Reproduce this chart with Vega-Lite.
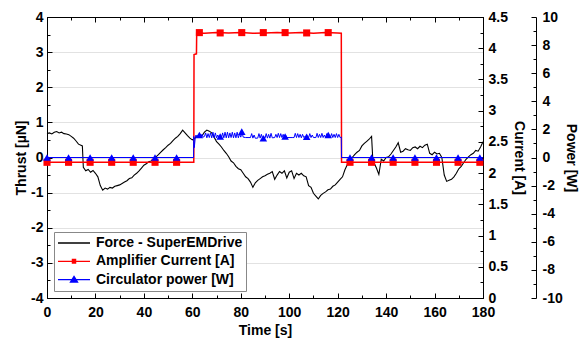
{
  "$schema": "https://vega.github.io/schema/vega-lite/v6.json",
  "width": 436,
  "height": 281,
  "autosize": {"type": "none"},
  "padding": {"left": 47, "top": 17, "right": 96, "bottom": 46},
  "config": {
    "view": {"stroke": "black", "strokeWidth": 1},
    "font": "Liberation Sans",
    "axis": {
      "labelFont": "Liberation Sans", "labelFontSize": 14, "labelFontWeight": "bold", "labelColor": "black",
      "titleFont": "Liberation Sans", "titleFontSize": 14, "titleFontWeight": "bold", "titleColor": "black",
      "domainColor": "black", "tickColor": "black", "labelOverlap": false, "labelFlush": false, "grid": false
    },
    "legend": {
      "labelFont": "Liberation Sans", "labelFontSize": 14, "labelFontWeight": "bold", "labelColor": "black",
      "strokeColor": "#888888", "fillColor": "white", "padding": 3, "rowPadding": 2.3,
      "symbolSize": 1024, "symbolStrokeWidth": 1.3, "symbolOpacity": 1, "labelOffset": 5,
      "orient": "bottom-left", "offset": 7, "clipHeight": 16
    }
  },
  "datasets": {
    "force": [
      {"t":0,"v":0.68},{"t":1,"v":0.7},{"t":2,"v":0.67},{"t":3,"v":0.72},{"t":4,"v":0.74},{"t":5,"v":0.7},{"t":6,"v":0.72},{"t":7,"v":0.68},{"t":8,"v":0.67},{"t":9,"v":0.65},{"t":10,"v":0.6},{"t":11,"v":0.55},{"t":12,"v":0.47},{"t":13,"v":0.38},{"t":14,"v":0.35},{"t":14.6,"v":0.33},{"t":15,"v":-0.28},{"t":16,"v":-0.38},{"t":17,"v":-0.34},{"t":18,"v":-0.42},{"t":19,"v":-0.37},{"t":20,"v":-0.45},{"t":21,"v":-0.55},{"t":22,"v":-0.8},{"t":23,"v":-0.93},{"t":24,"v":-0.87},{"t":25,"v":-0.9},{"t":26,"v":-0.85},{"t":27,"v":-0.87},{"t":28,"v":-0.82},{"t":29,"v":-0.8},{"t":30,"v":-0.78},{"t":31,"v":-0.74},{"t":32,"v":-0.7},{"t":33,"v":-0.66},{"t":34,"v":-0.6},{"t":35,"v":-0.58},{"t":36,"v":-0.5},{"t":37,"v":-0.45},{"t":38,"v":-0.38},{"t":39,"v":-0.3},{"t":40,"v":-0.22},{"t":41,"v":-0.18},{"t":42,"v":-0.12},{"t":43,"v":-0.1},{"t":44,"v":-0.05},{"t":45,"v":0.02},{"t":46,"v":0.08},{"t":47,"v":0.15},{"t":48,"v":0.22},{"t":49,"v":0.28},{"t":50,"v":0.35},{"t":51,"v":0.4},{"t":52,"v":0.48},{"t":53,"v":0.55},{"t":54,"v":0.6},{"t":55,"v":0.68},{"t":56,"v":0.78},{"t":57,"v":0.7},{"t":58,"v":0.62},{"t":59,"v":0.55},{"t":60,"v":0.5},{"t":61,"v":0.55},{"t":62,"v":0.6},{"t":63,"v":0.65},{"t":64,"v":0.62},{"t":65,"v":0.72},{"t":66,"v":0.78},{"t":67,"v":0.75},{"t":68,"v":0.7},{"t":69,"v":0.58},{"t":70,"v":0.45},{"t":71,"v":0.38},{"t":72,"v":0.3},{"t":73,"v":0.2},{"t":74,"v":0.12},{"t":75,"v":0.02},{"t":76,"v":-0.1},{"t":77,"v":-0.15},{"t":78,"v":-0.25},{"t":79,"v":-0.32},{"t":80,"v":-0.35},{"t":81,"v":-0.45},{"t":82,"v":-0.55},{"t":83,"v":-0.6},{"t":84,"v":-0.7},{"t":85,"v":-0.85},{"t":86,"v":-0.72},{"t":87,"v":-0.65},{"t":88,"v":-0.6},{"t":89,"v":-0.55},{"t":90,"v":-0.52},{"t":91,"v":-0.48},{"t":92,"v":-0.45},{"t":93,"v":-0.4},{"t":94,"v":-0.62},{"t":95,"v":-0.5},{"t":96,"v":-0.4},{"t":97,"v":-0.45},{"t":98,"v":-0.38},{"t":99,"v":-0.58},{"t":100,"v":-0.42},{"t":101,"v":-0.38},{"t":102,"v":-0.6},{"t":103,"v":-0.45},{"t":104,"v":-0.5},{"t":105,"v":-0.45},{"t":106,"v":-0.52},{"t":107,"v":-0.55},{"t":108,"v":-0.8},{"t":109,"v":-0.85},{"t":110,"v":-1.02},{"t":111,"v":-1.1},{"t":112,"v":-1.18},{"t":113,"v":-1.08},{"t":114,"v":-1.02},{"t":115,"v":-0.98},{"t":116,"v":-0.92},{"t":117,"v":-0.9},{"t":118,"v":-0.82},{"t":119,"v":-0.78},{"t":120,"v":-0.7},{"t":121,"v":-0.62},{"t":122,"v":-0.55},{"t":123,"v":-0.35},{"t":124,"v":-0.2},{"t":125,"v":-0.1},{"t":126,"v":0.0},{"t":127,"v":0.08},{"t":128,"v":0.15},{"t":129,"v":0.2},{"t":130,"v":0.33},{"t":131,"v":0.4},{"t":132,"v":0.46},{"t":133,"v":0.52},{"t":134,"v":0.6},{"t":134.5,"v":-0.05},{"t":135,"v":-0.15},{"t":136,"v":-0.3},{"t":137,"v":-0.48},{"t":138,"v":-0.05},{"t":139,"v":-0.1},{"t":140,"v":0.0},{"t":141,"v":0.02},{"t":142,"v":0.1},{"t":143,"v":0.2},{"t":144,"v":0.3},{"t":145,"v":0.42},{"t":146,"v":0.15},{"t":147,"v":0.18},{"t":148,"v":0.25},{"t":149,"v":0.22},{"t":150,"v":0.2},{"t":151,"v":0.28},{"t":152,"v":0.3},{"t":153,"v":0.25},{"t":154,"v":0.32},{"t":155,"v":0.28},{"t":156,"v":0.35},{"t":157,"v":0.38},{"t":158,"v":0.12},{"t":159,"v":0.08},{"t":160,"v":0.15},{"t":161,"v":0.1},{"t":162,"v":0.12},{"t":163,"v":0.0},{"t":164,"v":-0.5},{"t":165,"v":-0.68},{"t":166,"v":-0.65},{"t":167,"v":-0.62},{"t":168,"v":-0.55},{"t":169,"v":-0.45},{"t":170,"v":-0.32},{"t":171,"v":-0.25},{"t":172,"v":-0.15},{"t":173,"v":-0.05},{"t":174,"v":0.02},{"t":175,"v":0.08},{"t":176,"v":0.12},{"t":177,"v":0.2},{"t":178,"v":0.18},{"t":179,"v":0.3},{"t":180,"v":0.45}
    ],
    "current": [
      {"t":0,"v":2.173},{"t":60.6,"v":2.173},{"t":60.7,"v":3.9},{"t":61.7,"v":3.91},{"t":61.8,"v":4.245},{"t":65,"v":4.24},{"t":70,"v":4.25},{"t":75,"v":4.245},{"t":80,"v":4.25},{"t":85,"v":4.24},{"t":90,"v":4.245},{"t":95,"v":4.25},{"t":100,"v":4.245},{"t":105,"v":4.25},{"t":110,"v":4.24},{"t":115,"v":4.25},{"t":120,"v":4.245},{"t":121.5,"v":4.24},{"t":121.6,"v":2.173},{"t":180,"v":2.173}
    ],
    "power": [
      {"t":0,"v":0},{"t":60.5,"v":0},{"t":60.6,"v":1.5},{"t":60.8,"v":0.7},{"t":61.2,"v":1.4},{"t":61.5,"v":1.6},{"t":62,"v":1.45},{"t":62.5,"v":1.55},{"t":63,"v":1.7},{"t":63.5,"v":1.5},{"t":64,"v":1.65},{"t":64.5,"v":1.45},{"t":65,"v":1.5},{"t":65.5,"v":1.75},{"t":66,"v":1.4},{"t":66.5,"v":1.7},{"t":67,"v":1.42},{"t":67.5,"v":1.75},{"t":68,"v":1.4},{"t":68.5,"v":1.8},{"t":69,"v":1.4},{"t":69.5,"v":1.75},{"t":70,"v":1.4},{"t":70.5,"v":1.6},{"t":71,"v":1.4},{"t":71.5,"v":1.45},{"t":72,"v":1.4},{"t":72.5,"v":1.75},{"t":73,"v":1.4},{"t":73.5,"v":1.8},{"t":74,"v":1.4},{"t":74.5,"v":1.8},{"t":75,"v":1.4},{"t":75.5,"v":1.75},{"t":76,"v":1.42},{"t":76.5,"v":1.8},{"t":77,"v":1.4},{"t":77.5,"v":1.75},{"t":78,"v":1.4},{"t":78.5,"v":1.8},{"t":79,"v":1.4},{"t":79.5,"v":1.7},{"t":80,"v":1.45},{"t":80.5,"v":1.8},{"t":81,"v":1.45},{"t":82,"v":1.42},{"t":83,"v":1.42},{"t":84,"v":1.42},{"t":84.5,"v":1.7},{"t":85,"v":1.38},{"t":85.5,"v":1.6},{"t":86,"v":1.37},{"t":87,"v":1.38},{"t":87.5,"v":1.7},{"t":88,"v":1.38},{"t":88.5,"v":1.65},{"t":89,"v":1.35},{"t":89.5,"v":1.5},{"t":90,"v":1.38},{"t":90.5,"v":1.7},{"t":91,"v":1.38},{"t":91.5,"v":1.65},{"t":92,"v":1.38},{"t":92.5,"v":1.72},{"t":93,"v":1.4},{"t":94,"v":1.42},{"t":94.5,"v":1.65},{"t":95,"v":1.42},{"t":95.5,"v":1.72},{"t":96,"v":1.42},{"t":96.5,"v":1.7},{"t":97,"v":1.42},{"t":97.5,"v":1.65},{"t":98,"v":1.42},{"t":98.5,"v":1.6},{"t":99,"v":1.42},{"t":101.5,"v":1.42},{"t":102,"v":1.42},{"t":102.5,"v":1.72},{"t":103,"v":1.42},{"t":103.5,"v":1.7},{"t":104,"v":1.42},{"t":104.5,"v":1.65},{"t":105,"v":1.4},{"t":105.5,"v":1.65},{"t":106,"v":1.42},{"t":106.5,"v":1.5},{"t":107,"v":1.42},{"t":108,"v":1.42},{"t":108.5,"v":1.7},{"t":109,"v":1.42},{"t":109.5,"v":1.6},{"t":110,"v":1.42},{"t":111,"v":1.42},{"t":111.5,"v":1.72},{"t":112,"v":1.42},{"t":112.5,"v":1.65},{"t":113,"v":1.42},{"t":113.5,"v":1.72},{"t":114,"v":1.42},{"t":114.5,"v":1.6},{"t":115,"v":1.42},{"t":115.5,"v":1.7},{"t":116,"v":1.42},{"t":116.5,"v":1.6},{"t":117,"v":1.42},{"t":117.5,"v":1.7},{"t":118,"v":1.42},{"t":118.5,"v":1.65},{"t":119,"v":1.42},{"t":119.5,"v":1.7},{"t":120,"v":1.42},{"t":120.5,"v":1.65},{"t":121,"v":1.42},{"t":121.5,"v":1.45},{"t":121.6,"v":0},{"t":180,"v":0}
    ],
    "ampMarks": [
      {"t":0,"v":2.173},{"t":8.9,"v":2.173},{"t":17.8,"v":2.173},{"t":26.7,"v":2.173},{"t":35.6,"v":2.173},{"t":44.6,"v":2.173},{"t":53.5,"v":2.173},
      {"t":62.9,"v":4.25},{"t":71.5,"v":4.245},{"t":80.4,"v":4.25},{"t":89.3,"v":4.25},{"t":98.3,"v":4.25},{"t":107.2,"v":4.245},{"t":116.1,"v":4.25},
      {"t":125.1,"v":2.173},{"t":134.0,"v":2.173},{"t":142.9,"v":2.173},{"t":151.9,"v":2.173},{"t":160.8,"v":2.173},{"t":169.7,"v":2.173},{"t":178.7,"v":2.173}
    ],
    "circMarks": [
      {"t":0,"v":0},{"t":8.9,"v":0},{"t":17.8,"v":0},{"t":26.7,"v":0},{"t":35.6,"v":0},{"t":44.6,"v":0},{"t":53.5,"v":0},
      {"t":62.9,"v":1.6},{"t":71.5,"v":1.5},{"t":80.4,"v":1.84},{"t":89.3,"v":1.37},{"t":98.3,"v":1.5},{"t":107.2,"v":1.48},{"t":116.1,"v":1.6},
      {"t":125.1,"v":0},{"t":134.0,"v":0},{"t":142.9,"v":0},{"t":151.9,"v":0},{"t":160.8,"v":0},{"t":169.7,"v":0},{"t":178.7,"v":0}
    ],
    "series": [
      {"series": "Force - SuperEMDrive"},
      {"series": "Amplifier Current [A]"},
      {"series": "Circulator power [W]"}
    ]
  },
  "resolve": {"scale": {"y": "independent"}, "axis": {"x": "independent", "y": "independent"}},
  "layer": [
    {
      "data": {"name": "force"},
      "mark": {"type": "line", "color": "black", "strokeWidth": 1.1},
      "encoding": {
        "x": {"field": "t", "type": "quantitative", "scale": {"domain": [0, 180], "nice": false},
          "axis": {"orient": "bottom", "title": "Time [s]",
            "values": [0,10,20,30,40,50,60,70,80,90,100,110,120,130,140,150,160,170,180],
            "labelExpr": "datum.value % 20 === 0 ? '' + datum.value : ''",
            "tickSize": {"condition": {"test": "datum.value % 20 === 0", "value": -5}, "value": -3},
            "labelPadding": 12, "titlePadding": 2}},
        "y": {"field": "v", "type": "quantitative", "scale": {"domain": [-4, 4], "nice": false, "zero": false},
          "axis": {"orient": "left", "title": "Thrust [µN]",
            "values": [-4,-3.5,-3,-2.5,-2,-1.5,-1,-0.5,0,0.5,1,1.5,2,2.5,3,3.5,4],
            "labelExpr": "datum.value % 1 === 0 ? '' + datum.value : ''",
            "tickSize": {"condition": {"test": "datum.value % 1 === 0", "value": -5}, "value": -3},
            "labelPadding": 9, "titlePadding": 2,
            "grid": true, "gridColor": "#e2e2e2",
            "gridOpacity": {"condition": {"test": "datum.value % 1 === 0 && abs(datum.value) < 4", "value": 1}, "value": 0}}}
      }
    },
    {
      "data": {"name": "current"},
      "mark": {"type": "line", "color": "#ff0000", "strokeWidth": 1.5},
      "encoding": {
        "x": {"field": "t", "type": "quantitative", "scale": {"domain": [0, 180], "nice": false},
          "axis": {"orient": "top", "title": null, "labels": false,
            "values": [0,10,20,30,40,50,60,70,80,90,100,110,120,130,140,150,160,170,180],
            "tickSize": {"condition": {"test": "datum.value % 20 === 0", "value": -5}, "value": -3}}},
        "y": {"field": "v", "type": "quantitative", "scale": {"domain": [0, 4.5], "nice": false, "zero": false},
          "axis": {"orient": "right", "title": "Current [A]",
            "values": [0,0.25,0.5,0.75,1,1.25,1.5,1.75,2,2.25,2.5,2.75,3,3.25,3.5,3.75,4,4.25,4.5],
            "labelExpr": "(datum.value * 2) % 1 === 0 ? '' + datum.value : ''",
            "tickSize": {"condition": {"test": "(datum.value * 2) % 1 === 0", "value": -5}, "value": -3},
            "labelPadding": 10, "titlePadding": 4}}
      }
    },
    {
      "data": {"name": "ampMarks"},
      "mark": {"type": "point", "shape": "square", "filled": true, "size": 50, "opacity": 1, "color": "#ff0000"},
      "encoding": {
        "x": {"field": "t", "type": "quantitative", "scale": {"domain": [0, 180], "nice": false}, "axis": null},
        "y": {"field": "v", "type": "quantitative", "scale": {"domain": [0, 4.5], "nice": false, "zero": false}, "axis": null}
      }
    },
    {
      "data": {"name": "power"},
      "mark": {"type": "line", "color": "#0000ff", "strokeWidth": 1},
      "encoding": {
        "x": {"field": "t", "type": "quantitative", "scale": {"domain": [0, 180], "nice": false}, "axis": null},
        "y": {"field": "v", "type": "quantitative", "scale": {"domain": [-10, 10], "nice": false, "zero": false},
          "axis": {"orient": "right", "title": "Power [W]", "offset": 53, "domain": true,
            "values": [-10,-9,-8,-7,-6,-5,-4,-3,-2,-1,0,1,2,3,4,5,6,7,8,9,10],
            "labelExpr": "datum.value % 2 === 0 ? '' + datum.value : ''",
            "tickSize": {"condition": {"test": "datum.value % 2 === 0", "value": -5}, "value": -3},
            "labelPadding": 11, "titlePadding": 1}}
      }
    },
    {
      "data": {"name": "circMarks"},
      "mark": {"type": "point", "shape": "triangle-up", "filled": true, "size": 58, "opacity": 1, "color": "#0000ff"},
      "encoding": {
        "x": {"field": "t", "type": "quantitative", "scale": {"domain": [0, 180], "nice": false}, "axis": null},
        "y": {"field": "v", "type": "quantitative", "scale": {"domain": [-10, 10], "nice": false, "zero": false}, "axis": null}
      }
    },
    {
      "data": {"name": "series"},
      "mark": {"type": "point", "filled": false, "opacity": 0, "strokeWidth": 1.3},
      "encoding": {
        "color": {"field": "series", "type": "nominal",
          "scale": {"domain": ["Force - SuperEMDrive", "Amplifier Current [A]", "Circulator power [W]"], "range": ["black", "#ff0000", "#0000ff"]},
          "legend": {"title": null}},
        "shape": {"field": "series", "type": "nominal",
          "scale": {"domain": ["Force - SuperEMDrive", "Amplifier Current [A]", "Circulator power [W]"],
            "range": [
              "M-1,0H1",
              "M-1,0H1M-0.14,-0.12H0.14M-0.14,-0.04H0.14M-0.14,0.04H0.14M-0.14,0.12H0.14",
              "M-1,0H1M0,-0.2L0.22,0.15H-0.22ZM-0.19,0.12H0.19M-0.14,0.05H0.14M-0.1,-0.02H0.1M-0.05,-0.09H0.05"
            ]},
          "legend": {"title": null}}
      }
    }
  ]
}
